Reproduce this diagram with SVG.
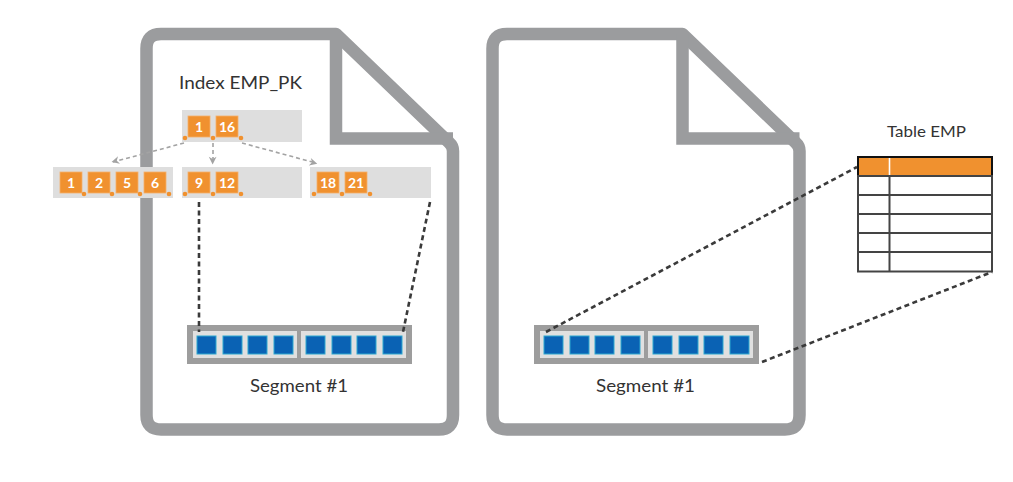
<svg xmlns="http://www.w3.org/2000/svg" width="1013" height="482" viewBox="0 0 1013 482">
<defs>
<style>
.doc{fill:#fff;stroke:#9b9c9e;stroke-width:12.5;stroke-linejoin:round}
.fold{fill:none;stroke:#9b9c9e;stroke-width:12.5;stroke-linejoin:miter}
.node{fill:#dedede}
.key{fill:#f0912f;stroke:#f6b06a;stroke-width:0.8}
.kt{font-family:Lato,"Liberation Sans",sans-serif;font-weight:700;font-size:14px;fill:#fff;text-anchor:middle}
.dot{fill:#f0912f}
.lbl{font-family:Lato,"Liberation Sans",sans-serif;fill:#333}
.segO{fill:#9d9d9d}
.segI{fill:#e0e0e0}
.blk{fill:#0a62b4;stroke:#2ca7cf;stroke-width:1}
.tree{fill:none;stroke:#a3a3a3;stroke-width:1.6;stroke-dasharray:4 3}
.ptr{fill:none;stroke:#3a3a3a;stroke-width:2.6;stroke-dasharray:5 3.5}
.tl{fill:none;stroke:#444;stroke-width:2}
</style>
<marker id="ah" viewBox="0 0 10 10" refX="9" refY="5" markerWidth="7" markerHeight="7" orient="auto" markerUnits="userSpaceOnUse" overflow="visible">
<path d="M0,0 L10,5 L0,10 L3,5 z" fill="#a3a3a3" transform="scale(1.1)"/>
</marker>
<g id="seg">
<rect class="segO" x="0" y="0" width="225" height="39"/>
<rect class="segI" x="6" y="6" width="104" height="27"/>
<rect class="segI" x="114" y="6" width="105" height="27"/>
<rect class="blk" x="10" y="11" width="19" height="18"/>
<rect class="blk" x="36" y="11" width="19" height="18"/>
<rect class="blk" x="61" y="11" width="19" height="18"/>
<rect class="blk" x="87" y="11" width="19" height="18"/>
<rect class="blk" x="119" y="11" width="19" height="18"/>
<rect class="blk" x="145" y="11" width="19" height="18"/>
<rect class="blk" x="170" y="11" width="19" height="18"/>
<rect class="blk" x="196" y="11" width="19" height="18"/>
</g>
</defs>

<g id="doc-index">
<path class="doc" d="M336,34 L161,34 Q146.5,34 146.5,48.5 L146.5,415 Q146.5,429.5 161,429.5 L439,429.5 Q453,429.5 453,415 L453,151 Q453,146 449,142.5 Z"/>
<path class="fold" d="M336,34 V138.5 H453"/>
</g>
<g id="doc-table">
<path class="doc" d="M682.5,34 L507,34 Q492.5,34 492.5,48.5 L492.5,415 Q492.5,429.5 507,429.5 L785,429.5 Q799.5,429.5 799.5,415 L799.5,151 Q799.5,146 795.5,142.5 Z"/>
<path class="fold" d="M682.5,34 V138.5 H799.5"/>
</g>

<g id="index-label"><text class="lbl" x="179" y="89" font-size="17.5" textLength="123" lengthAdjust="spacingAndGlyphs">Index EMP_PK</text></g>

<g id="root-node">
<rect class="node" x="182" y="110" width="120" height="32"/>
<rect class="key" x="188" y="116" width="22" height="21"/><text class="kt" x="199" y="131.5">1</text>
<rect class="key" x="216" y="116" width="22" height="21"/><text class="kt" x="227" y="131.5">16</text>
<circle class="dot" cx="185" cy="138" r="2.3"/><circle class="dot" cx="213" cy="138" r="2.3"/><circle class="dot" cx="241" cy="138" r="2.3"/>
</g>

<g id="leaf-1">
<rect class="node" x="53" y="167" width="120" height="31"/>
<rect class="key" x="60" y="172" width="22" height="21"/><text class="kt" x="71" y="187.5">1</text>
<rect class="key" x="88" y="172" width="22" height="21"/><text class="kt" x="99" y="187.5">2</text>
<rect class="key" x="116" y="172" width="22" height="21"/><text class="kt" x="127" y="187.5">5</text>
<rect class="key" x="144" y="172" width="22" height="21"/><text class="kt" x="155" y="187.5">6</text>
<circle class="dot" cx="84" cy="194" r="2.3"/><circle class="dot" cx="112" cy="194" r="2.3"/><circle class="dot" cx="140" cy="194" r="2.3"/><circle class="dot" cx="169" cy="194" r="2.3"/>
</g>

<g id="leaf-2">
<rect class="node" x="182" y="167" width="120" height="31"/>
<rect class="key" x="188" y="172" width="22" height="21"/><text class="kt" x="199" y="187.5">9</text>
<rect class="key" x="216" y="172" width="22" height="21"/><text class="kt" x="227" y="187.5">12</text>
<circle class="dot" cx="185" cy="194" r="2.3"/><circle class="dot" cx="213" cy="194" r="2.3"/><circle class="dot" cx="241" cy="194" r="2.3"/>
</g>

<g id="leaf-3">
<rect class="node" x="310" y="167" width="121" height="31"/>
<rect class="key" x="317" y="172" width="22" height="21"/><text class="kt" x="328" y="187.5">18</text>
<rect class="key" x="345" y="172" width="22" height="21"/><text class="kt" x="356" y="187.5">21</text>
<circle class="dot" cx="314" cy="194" r="2.3"/><circle class="dot" cx="342" cy="194" r="2.3"/><circle class="dot" cx="370" cy="194" r="2.3"/>
</g>

<g id="segment-index">
<use href="#seg" x="187" y="325"/>
<text class="lbl" x="250" y="392" font-size="18" textLength="98" lengthAdjust="spacingAndGlyphs">Segment #1</text>
</g>
<g id="segment-table">
<use href="#seg" x="534" y="325"/>
<text class="lbl" x="596" y="392" font-size="18" textLength="99" lengthAdjust="spacingAndGlyphs">Segment #1</text>
</g>

<g id="table-emp">
<text class="lbl" x="887" y="137" font-size="15" textLength="79" lengthAdjust="spacingAndGlyphs" fill="#555">Table EMP</text>
<rect x="858" y="157" width="134" height="19" fill="#f0912f" stroke="#111" stroke-width="2"/>
<line x1="889.5" y1="158" x2="889.5" y2="175" stroke="#fff" stroke-width="1.6"/>
<rect class="tl" x="858" y="176" width="134" height="95.5"/>
<path class="tl" d="M858,195 H992 M858,214 H992 M858,233 H992 M858,252 H992 M889.5,176 V271.5"/>
</g>

<g id="connectors">
<path class="tree" d="M184,143 L113,162" marker-end="url(#ah)"/>
<path class="tree" d="M213,143 L213,163" marker-end="url(#ah)"/>
<path class="tree" d="M242,143 L316,163" marker-end="url(#ah)"/>
<path class="ptr" d="M199,202 L199,332"/>
<path class="ptr" d="M430,202 L403,332"/>
<path class="ptr" d="M546,332 L857,167"/>
<path class="ptr" d="M762,362 L992,272"/>
</g>
</svg>
